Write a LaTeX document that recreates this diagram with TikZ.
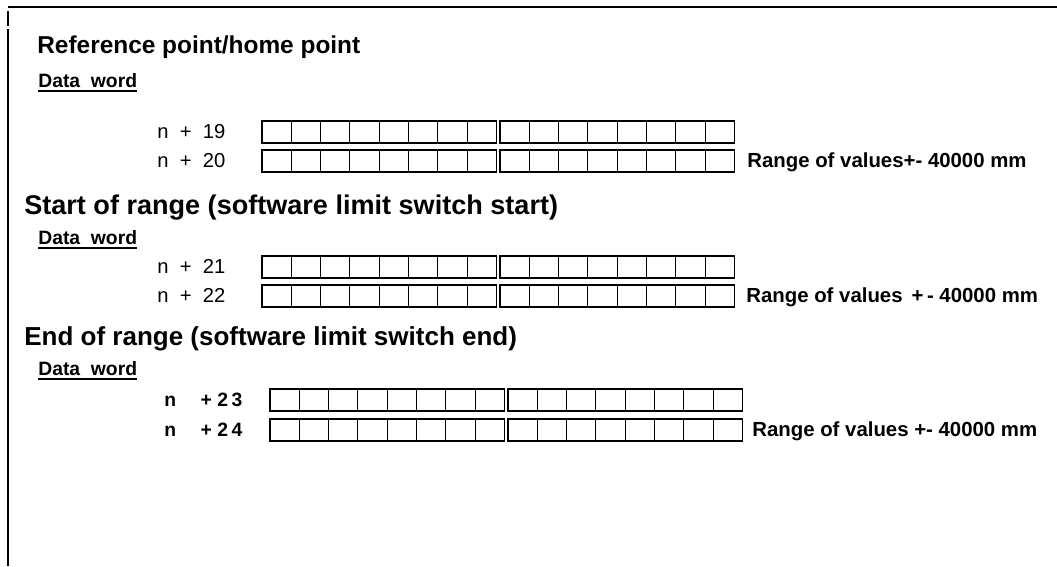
\documentclass[tikz,border=0pt]{standalone}
\usepackage{fontspec}
\setmainfont{Liberation Sans}
\tikzset{
  heading/.style={anchor=base west, inner sep=0pt, font=\fontsize{14.8}{17}\selectfont\bfseries},
  dataword/.style={anchor=base west, inner sep=0pt, font=\fontsize{11}{13}\selectfont\bfseries},
  wordno/.style={anchor=base west, inner sep=0pt, font=\fontsize{11.5}{13}\selectfont},
  rangetext/.style={anchor=base west, inner sep=0pt, font=\fontsize{11.6}{13}\selectfont\bfseries},
  bitcell/.style={draw, line width=0.6pt}
}
\begin{document}
\begin{tikzpicture}[x=0.02cm, y=-0.02cm]
  \useasboundingbox (0,0) rectangle (1057,566);
  % frame
  \draw[line width=1.2pt] (8,7) -- (1057,7);
  \draw[line width=1.5pt] (8,11) -- (8,26);
  \draw[line width=0.9pt] (8,29) -- (8,566);
  % headings
  \node[heading, font=\fontsize{13.9}{17}\selectfont\bfseries] (refpt) at (37,53) {Reference point/home point};
  \node[heading, font=\fontsize{15.4}{18}\selectfont\bfseries] (startrng) at (24,214) {Start of range (software limit switch start)};
  \node[heading] (endrng) at (24,345) {End of range (software limit switch end)};
  % data word labels
  \node[dataword] (dw1) at (38,87) {Data\ \ word};
  \node[dataword] (dw2) at (38,244) {Data\ \ word};
  \node[dataword] (dw3) at (38,375) {Data\ \ word};
  \foreach \d in {dw1,dw2,dw3}
    \draw[line width=1.1pt] ([yshift=-2.5pt]\d.base west) -- ([yshift=-2.5pt]\d.base east);
  % word numbers
  \node[wordno] (w19) at (157,138.5) {n\ \ +\ \ 19};
  \node[wordno] (w20) at (157,167.5) {n\ \ +\ \ 20};
  \node[wordno] (w21) at (157,273.5) {n\ \ +\ \ 21};
  \node[wordno] (w22) at (157,302.5) {n\ \ +\ \ 22};
  \node[wordno, font=\fontsize{11}{13}\selectfont\bfseries] (w23) at (164,406.5) {n\hspace{14pt}+\hspace{3pt}2\hspace{2pt}3};
  \node[wordno, font=\fontsize{11}{13}\selectfont\bfseries] (w24) at (164,436.5) {n\hspace{14pt}+\hspace{3pt}2\hspace{2pt}4};
  % bit cells, two bytes per word
  \foreach \x/\y in {262/121, 262/150, 262/256, 262/285, 270/389, 270/419} {
    \foreach \i in {0,...,7} {
      \draw[bitcell] ({\x+\i*29.3},\y) rectangle ++(29.3,22);
      \draw[bitcell] ({\x+238+\i*29.3},\y) rectangle ++(29.3,22);
    }
  }
  % ranges
  \node[rangetext] (rng1) at (747,167.5) {Range of values+- 40000 mm};
  \node[rangetext] (rng2) at (746,302.5) {Range of values \,+\,- 40000 mm};
  \node[rangetext] (rng3) at (752,436.5) {Range of values +- 40000 mm};
\end{tikzpicture}
\end{document}
